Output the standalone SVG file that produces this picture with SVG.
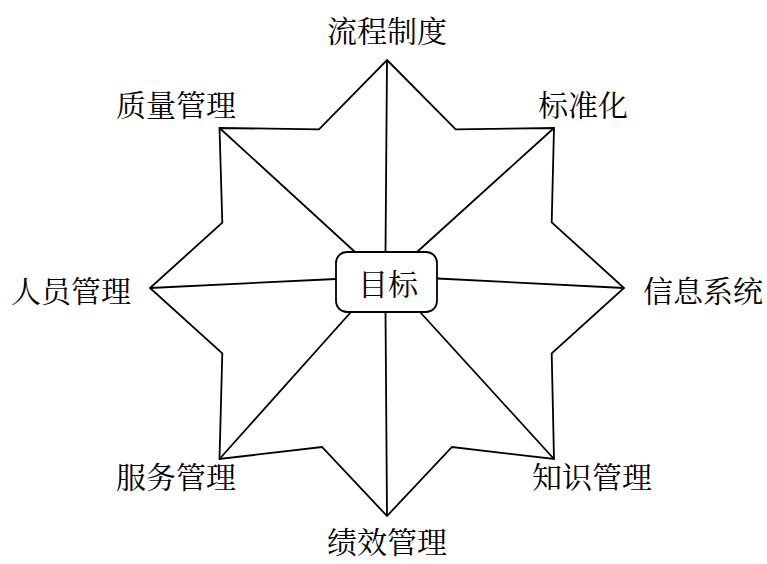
<svg xmlns="http://www.w3.org/2000/svg" width="767" height="564" viewBox="0 0 767 564">
<style>
.ln{stroke:#000;stroke-width:1.8;fill:none;stroke-linejoin:miter}
.lbl{font-family:"Noto Serif CJK SC","Noto Sans CJK SC","Liberation Serif",serif;font-size:30px;fill:#000;text-anchor:middle}
</style>
<rect width="767" height="564" fill="#fff"/>
<g id="connectors">
<polygon class="ln" points="387,60 455.7,129.3 554,128 551.7,222.3 624,288 551.7,353.3 554,459 452,447 387,516 322,447 219.5,459 222.3,353.3 150,288 222.3,222.7 219.5,128 319,129.3"/>
<line class="ln" x1="387" y1="60" x2="385.5" y2="252"/>
<line class="ln" x1="554" y1="128" x2="417" y2="252"/>
<line class="ln" x1="624" y1="288" x2="437" y2="278.5"/>
<line class="ln" x1="554" y1="459" x2="420" y2="312"/>
<line class="ln" x1="387" y1="516" x2="385.5" y2="312"/>
<line class="ln" x1="219.5" y1="459" x2="351" y2="312"/>
<line class="ln" x1="150" y1="288" x2="336" y2="279"/>
<line class="ln" x1="219.5" y1="128" x2="355" y2="252"/>
</g>
<g id="center">
<rect x="336" y="252" width="101" height="60" rx="11" fill="#fff" stroke="#000" stroke-width="1.8"/>
<text class="lbl" x="388" y="295">目标</text>
</g>
<g id="n-top"><text class="lbl" x="387" y="42">流程制度</text></g>
<g id="n-topright"><text class="lbl" x="583" y="116">标准化</text></g>
<g id="n-right"><text class="lbl" x="703" y="302">信息系统</text></g>
<g id="n-bottomright"><text class="lbl" x="592" y="488">知识管理</text></g>
<g id="n-bottom"><text class="lbl" x="387" y="553">绩效管理</text></g>
<g id="n-bottomleft"><text class="lbl" x="176" y="488">服务管理</text></g>
<g id="n-left"><text class="lbl" x="71" y="302">人员管理</text></g>
<g id="n-topleft"><text class="lbl" x="176" y="116">质量管理</text></g>
</svg>
